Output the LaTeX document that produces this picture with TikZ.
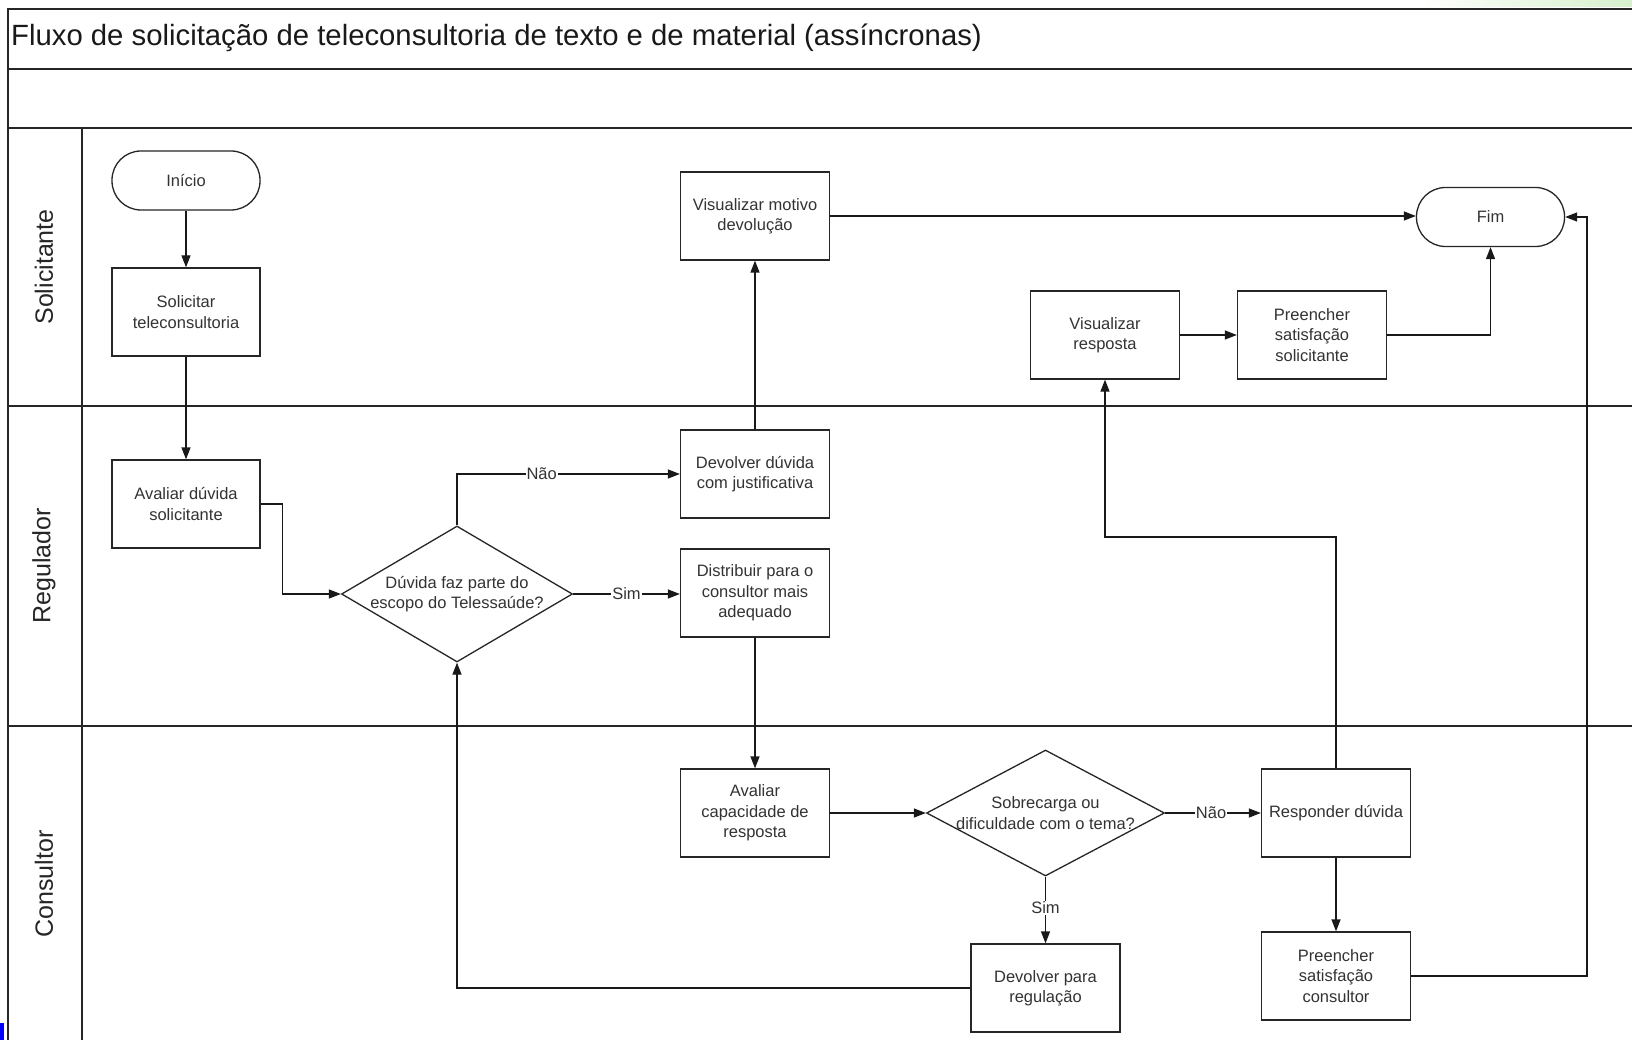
\documentclass[tikz,border=0pt]{standalone}
\usepackage{fontspec}
\setmainfont{Liberation Sans}
\usetikzlibrary{shapes.geometric,arrows.meta,calc}
\definecolor{lgreen}{HTML}{D6F0CC}
\begin{document}
\begin{tikzpicture}[x=1pt,y=-1pt,
  box/.style={draw=black!85, line width=1.3pt, minimum width=149pt, minimum height=88pt, align=center, text=black!80, font=\fontsize{16.5}{20.3}\selectfont, inner sep=2pt},
  term/.style={box, minimum width=148pt, minimum height=59pt, rounded corners=29pt},
  dia/.style={draw=black!85, line width=1.3pt, diamond, inner sep=0pt},
  dtext/.style={align=center, text=black!80, font=\fontsize{16.5}{20.3}\selectfont, inner sep=0pt},
  arr/.style={draw=black!90, line width=1.3pt, -{Triangle[length=12pt,width=9pt]}},
  lbl/.style={fill=white, inner sep=1pt, text=black!80, font=\fontsize{16.5}{20}\selectfont},
  lane/.style={draw=black!85, line width=2.2pt},
  lanelbl/.style={rotate=90, text=black!85, font=\fontsize{25}{30}\selectfont}
]
\useasboundingbox (0,0) rectangle (1632,1040);
\fill[white] (0,0) rectangle (1632,1040);
\shade[left color=white, right color=lgreen] (1420,0) rectangle (1632,7);
\fill[blue] (0,1023) rectangle (4,1040);

% frame
\draw[lane] (8,1040) -- (8,9) -- (1632,9);
\draw[lane] (8,69) -- (1632,69);
\draw[lane] (8,128) -- (1632,128);
\draw[lane] (8,406) -- (1632,406);
\draw[lane] (8,726) -- (1632,726);
\draw[lane] (82,128) -- (82,1040);

\node[anchor=west, inner sep=0pt, font=\fontsize{29.3}{34}\selectfont, text=black!90] (title) at (11,38) {Fluxo de solicitação de teleconsultoria de texto e de material (assíncronas)};

\node[lanelbl] (lS) at (44,267) {Solicitante};
\node[lanelbl] (lR) at (44,566) {Regulador};
\node[lanelbl] (lC) at (44,884) {Consultor};

% nodes
\node[term] (inicio) at (186,180.5) {Início};
\node[box, minimum width=148pt] (solicitar) at (186,312) {Solicitar\\teleconsultoria};
\node[box, minimum width=148pt] (avaliar) at (186,504) {Avaliar dúvida\\solicitante};
\node[dia, minimum width=231pt, minimum height=136pt] (d1) at (457,594) {};
\node[dtext] (d1t) at (d1.center) {Dúvida faz parte do\\escopo do Telessaúde?};
\node[box] (devolver) at (755,474) {Devolver dúvida\\com justificativa};
\node[box] (distribuir) at (755,593) {Distribuir para o\\consultor mais\\adequado};
\node[box] (vismotivo) at (755,216) {Visualizar motivo\\devolução};
\node[term] (fim) at (1490.5,217) {Fim};
\node[box] (visresp) at (1105,335) {Visualizar\\resposta};
\node[box] (preencherS) at (1312,335) {Preencher\\satisfação\\solicitante};
\node[box] (avalcap) at (755,813) {Avaliar\\capacidade de\\resposta};
\node[dia, minimum width=238pt, minimum height=126pt] (d2) at (1045.5,813) {};
\node[dtext] (d2t) at (d2.center) {Sobrecarga ou\\dificuldade com o tema?};
\node[box] (responder) at (1336,813) {Responder dúvida};
\node[box] (preencherC) at (1336,976) {Preencher\\satisfação\\consultor};
\node[box] (devreg) at (1045.5,988) {Devolver para\\regulação};

\coordinate (rjoin) at (0,537);
\coordinate (rt) at (1587,0);

% connectors
\draw[arr] (inicio) -- (solicitar);
\draw[arr] (solicitar) -- (avaliar);
\draw[arr] (avaliar.east) -- ++(22,0) |- (d1.west);
\draw[arr] (d1.north) |- node[lbl, pos=0.69]{Não} (devolver.west);
\draw[arr] (d1.east) -- node[lbl, pos=0.5]{Sim} (d1.east -| distribuir.west);
\draw[arr] (devolver) -- (vismotivo);
\draw[arr] (vismotivo.east) -- (vismotivo.east -| fim.west);
\draw[arr] (distribuir) -- (avalcap);
\draw[arr] (avalcap.east) -- (d2.west);
\draw[arr] (d2.east) -- node[lbl, pos=0.48]{Não} (responder.west);
\draw[arr] (d2.south) -- node[lbl, pos=0.47]{Sim} (devreg.north);
\draw[arr] (devreg.west) -| (d1.south);
\draw[arr] (responder.north) -- (responder.north |- rjoin) -| (visresp.south);
\draw[arr] (responder) -- (preencherC);
\draw[arr] (preencherC.east) -- (preencherC.east -| rt) |- (fim.east);
\draw[arr] (visresp) -- (preencherS);
\draw[arr] (preencherS.east) -| (fim.south);
\end{tikzpicture}
\end{document}
